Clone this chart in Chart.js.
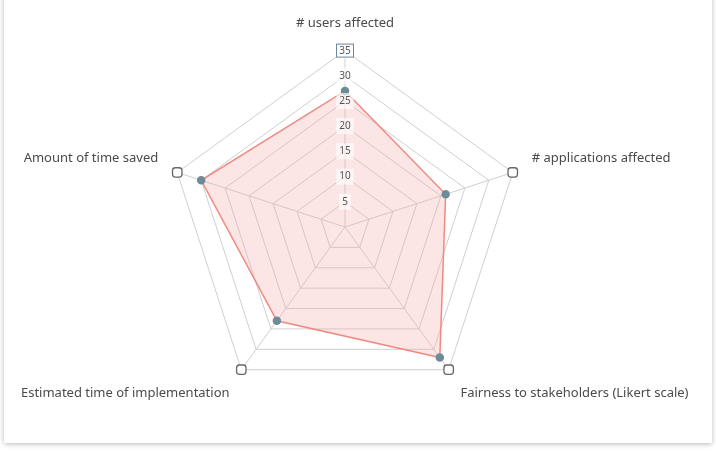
<!DOCTYPE html>
<html>
<head>
<meta charset="utf-8">
<script src="https://cdn.jsdelivr.net/npm/chart.js@4.4.1/dist/chart.umd.min.js"></script>
<style>
    html, body { margin: 0; padding: 0; background: #fff; }
    body { width: 716px; height: 451px; overflow: hidden; position: relative; }
    .card {
        position: absolute; left: 4px; top: -10px; width: 708px; height: 453px;
        background: #fff; box-shadow: 0 1px 5px rgba(0,0,0,0.28);
    }
    #chart { position: absolute; left: 0; top: 12px; }
</style>
</head>
<body>
<div class="card"><canvas id="chart" width="708" height="433"></canvas></div>
<script>
const categories = ['# users affected',
    '# applications affected',
    'Fairness to stakeholders (Likert scale)',
    'Estimated time of implementation',
    'Amount of time saved'];
const scores = [27, 21, 32, 23, 30];
const outerMarks = [35, 35, 35, 35, 35];
const tickMax = 35;
const tickStep = 5;

// box around the top tick label
const maxTickBox = {
    id: 'maxTickBox',
    afterDraw(chart) {
        const r = chart.scales.r;
        const p = r.getPointPositionForValue(0, tickMax);
        const c = chart.ctx;
        c.save();
        c.strokeStyle = '#6d8796';
        c.lineWidth = 1;
        c.fillStyle = '#fff';
        c.fillRect(p.x - 8.5, p.y - 6.5, 17, 13);
        c.strokeRect(p.x - 8.5, p.y - 6.5, 17, 13);
        c.fillStyle = '#555';
        c.font = '10px "Noto Sans"';
        c.textAlign = 'center';
        c.textBaseline = 'middle';
        c.fillText(String(tickMax), p.x, p.y + 0.5);
        c.restore();
    }
};

const ctx = document.querySelector('#chart').getContext('2d');
const chart = new Chart(ctx, {
    type: 'radar',
    data: {
        labels: categories,
        datasets: [{
            label: 'Score',
            data: scores,
            borderColor: '#f08a80',
            borderWidth: 1.5,
            backgroundColor: 'rgba(246, 170, 170, 0.3)',
            fill: true,
            pointBackgroundColor: '#6e8c98',
            pointBorderColor: '#6e8c98',
            pointRadius: 3.5
        }, {
            label: 'Max',
            data: outerMarks,
            showLine: false,
            fill: false,
            pointStyle: 'rectRounded',
            pointRadius: 5.5,
            pointBackgroundColor: '#fff',
            pointBorderColor: '#666',
            pointBorderWidth: 1.3
        }]
    },
    options: {
        responsive: false,
        animation: false,
        layout: { padding: { top: 0, bottom: 8, left: 0, right: 5 } },
        plugins: { legend: { display: false }, tooltip: { enabled: false } },
        scales: {
            r: {
                min: 0,
                max: tickMax,
                ticks: {
                    stepSize: tickStep,
                    color: '#555',
                    font: { size: 10, family: 'Noto Sans' },
                    backdropColor: 'rgba(255,255,255,0.65)',
                    backdropPadding: 3,
                    z: 1
                },
                grid: { color: '#cfcfcf', lineWidth: 1 },
                angleLines: { color: '#cfcfcf', lineWidth: 1 },
                pointLabels: {
                    color: '#4a4a4a',
                    font: { size: 13, family: 'Noto Sans' },
                    padding: 12
                }
            }
        }
    },
    plugins: [maxTickBox]
});
</script>
</body>
</html>
